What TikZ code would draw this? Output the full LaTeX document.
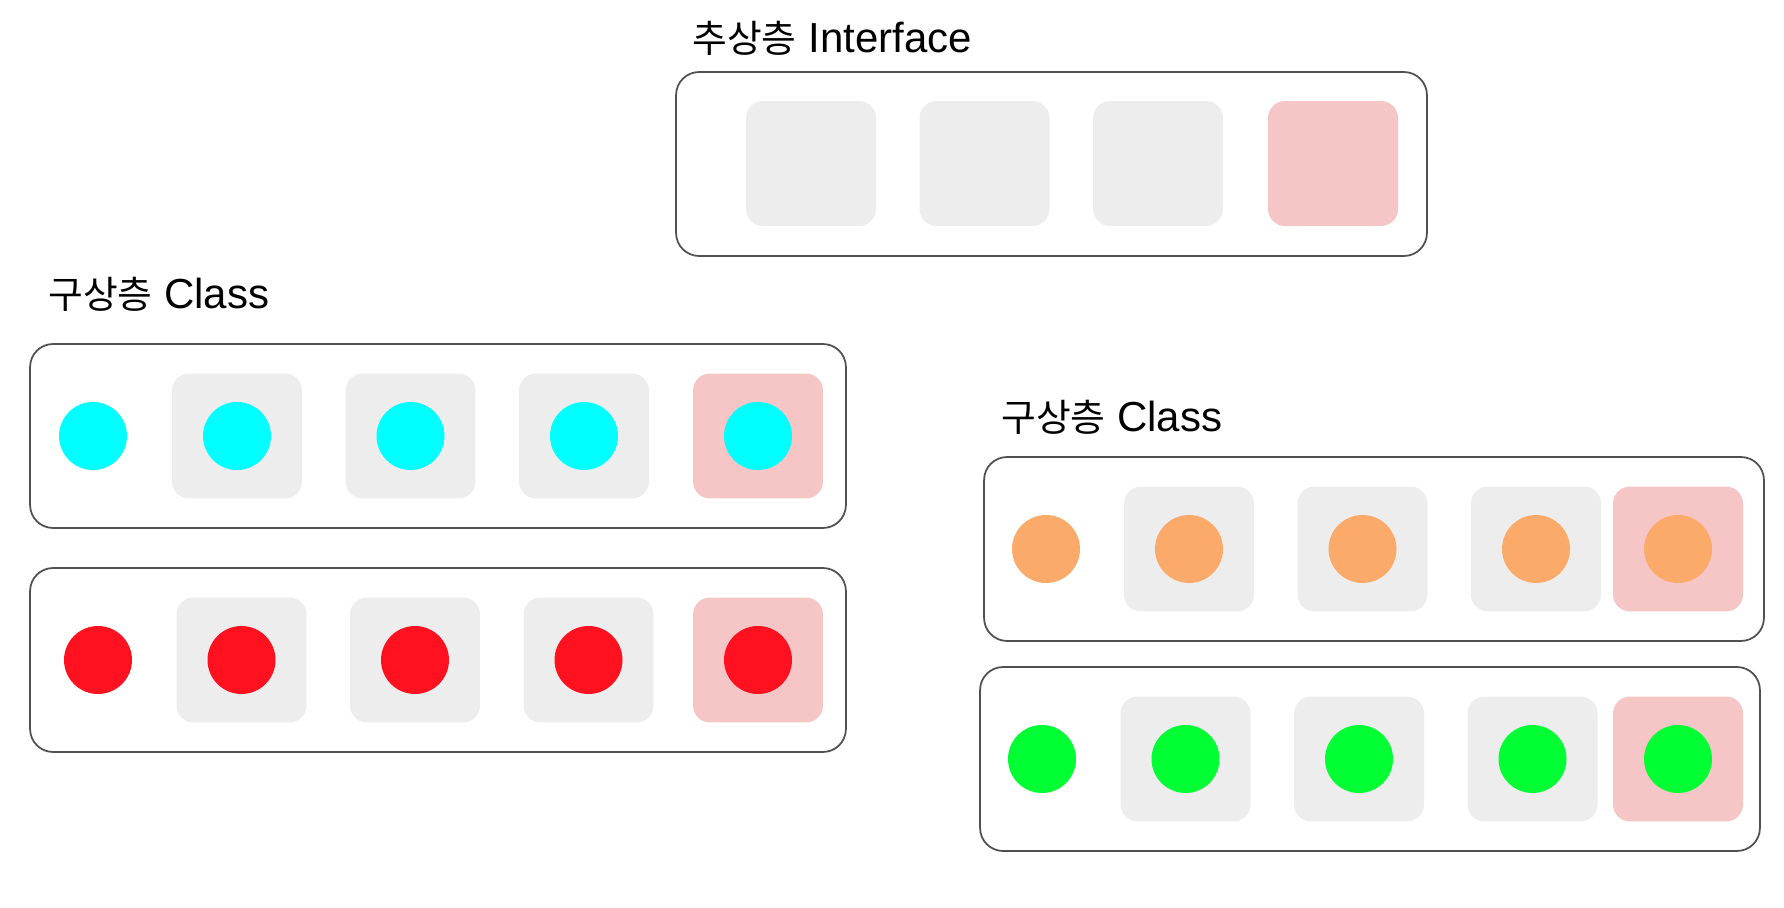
\documentclass[tikz,border=0pt]{standalone}
\usepackage{fontspec}
\setmainfont{Liberation Sans}
\newfontfamily\kr{Noto Sans CJK KR}[Scale=0.9]
\definecolor{framegray}{HTML}{505050}
\definecolor{slotgray}{HTML}{EDEDED}
\definecolor{slotpink}{HTML}{F6C5C5}
\definecolor{dotcyan}{HTML}{00FFFF}
\definecolor{dotred}{HTML}{FF111F}
\definecolor{dotorange}{HTML}{FCAA6A}
\definecolor{dotgreen}{HTML}{00FF33}

\begin{document}
\begin{tikzpicture}[x=0.02cm,y=-0.02cm]
\tikzset{
  layer/.style={draw=framegray,line width=1pt,rounded corners=0.46cm,
    minimum height=3.68cm,inner sep=0pt},
  slot/.style={fill=slotgray,rounded corners=0.34cm,minimum width=2.6cm,
    minimum height=2.5cm,inner sep=0pt},
  over/.style={slot,fill=slotpink},
  dot/.style={circle,minimum size=1.36cm,inner sep=0pt},
  title/.style={anchor=base west,inner sep=0pt,font=\fontsize{23.9}{28}\selectfont}}
\useasboundingbox (0,0) rectangle (1784,908);
% one class row: name, centre x, centre y, width, lone dot x, first slot x, last slot x, colour
\newcommand{\classrow}[8]{%
  \node[layer,minimum width=#4] (#1) at (#2,#3) {};
  \node[dot,fill=#8] (#1-d0) at (#5,#3) {};
  \foreach \k in {1,2,3}{
    \node[slot] (#1-s\k) at ({#6+173.5*(\k-1)},#3) {};
    \node[dot,fill=#8] (#1-d\k) at (#1-s\k) {};}
  \node[over] (#1-s4) at (#7,#3) {};
  \node[dot,fill=#8] (#1-d4) at (#1-s4) {};}
% ---------- abstract layer ----------
\node[title] (ifacetitle) at (692,53) {{\kr 추상층} Interface};
\node[layer,minimum width=15.02cm] (iface) at (1051.5,164) {};
\foreach \k in {1,2,3}
  \node[slot] (iface-s\k) at ({811+173.5*(\k-1)},163.5) {};
\node[over] (iface-s4) at (1333,163.5) {};
% ---------- concrete layer, left ----------
\node[title] (lefttitle) at (48,309) {{\kr 구상층} Class};
\classrow{cyanrow}{438}{436}{16.32cm}{93}{237}{758}{dotcyan}
\classrow{redrow}{438}{660}{16.32cm}{98}{241.5}{758}{dotred}
% ---------- concrete layer, right ----------
\node[title] (righttitle) at (1001,432) {{\kr 구상층} Class};
\classrow{orangerow}{1374}{549}{15.6cm}{1046}{1189}{1678}{dotorange}
\classrow{greenrow}{1370}{759}{15.6cm}{1042}{1185.5}{1678}{dotgreen}
\end{tikzpicture}
\end{document}
